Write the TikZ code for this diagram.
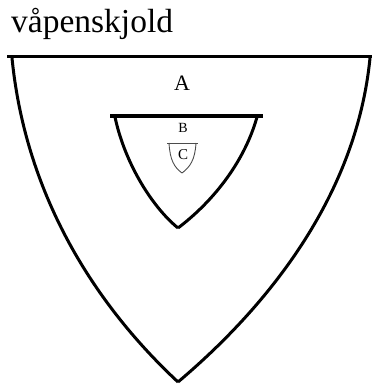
\documentclass[tikz,border=0pt]{standalone}
\usepackage{fontspec}
\setmainfont{Liberation Serif}
\usepackage{tikz}
\usetikzlibrary{positioning}

\begin{document}
\begin{tikzpicture}[x=1pt, y=-1pt,
        shield/.style={line width=3pt, line join=round},
        smallshield/.style={line width=0.9pt, draw=black!70, line join=round}]

        \useasboundingbox (0,0) rectangle (376,385);

        \node[anchor=base west, inner sep=0pt, font=\fontsize{33.5}{33.5}\selectfont] (title) at (11,33) {våpenskjold};

        % outer shield
        \draw[shield] (7,57) -- (372,57);
        \draw[shield] (12,58) .. controls (25,190) and (90,300) .. (178,382);
        \draw[shield] (370,58) .. controls (357,190) and (275,300) .. (178,382);

        % inner shield
        \draw[shield] (110,116) -- (263,116);
        \draw[shield] (115,117) .. controls (124,160) and (150,205) .. (178,228);
        \draw[shield] (257,117) .. controls (245,160) and (215,200) .. (178,228);

        % small shield
        \draw[smallshield] (167,143) -- (198,143);
        \draw[smallshield] (169,143) .. controls (170,160) and (174,167) .. (182,173);
        \draw[smallshield] (196,143) .. controls (195,160) and (190,167) .. (182,173);

        \node[font=\fontsize{22}{22}\selectfont] (a) at (182,83) {A};
        \node[font=\fontsize{14}{14}\selectfont] (b) at (183,128) {B};
        \node[font=\fontsize{15}{15}\selectfont] (c) at (183,155) {C};
    \end{tikzpicture}
\end{document}
